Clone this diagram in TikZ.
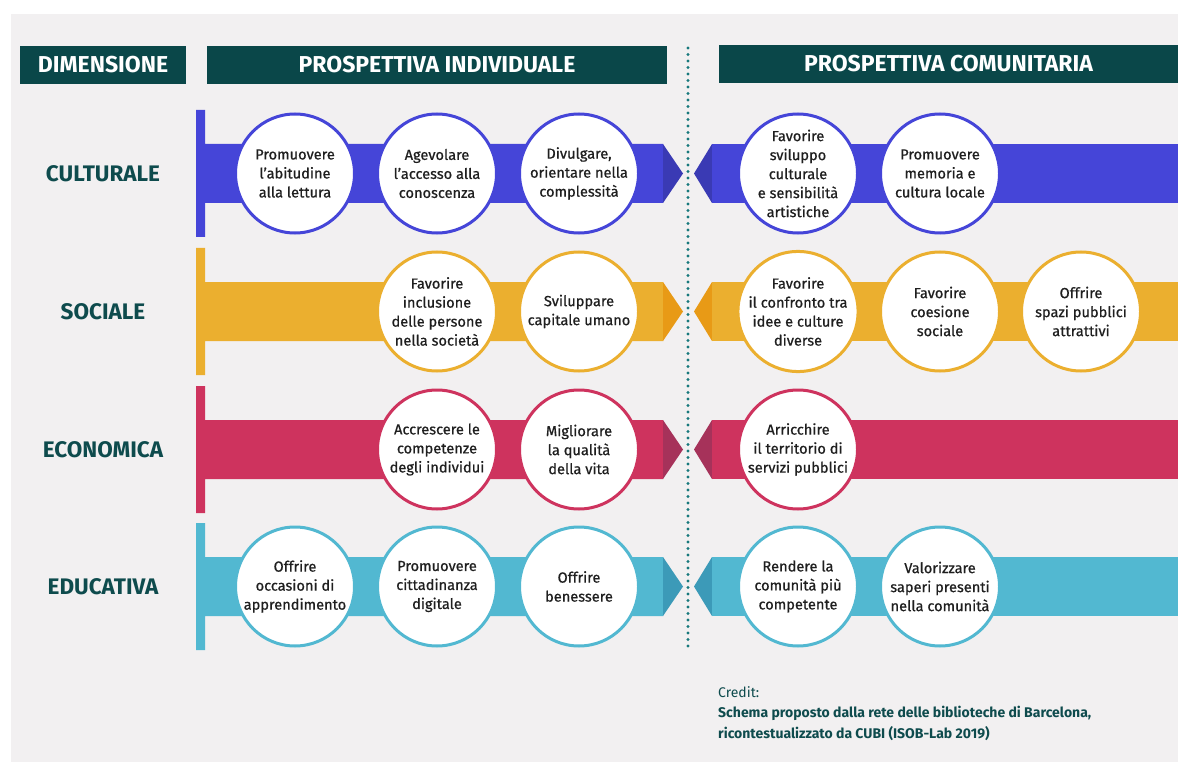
\documentclass[tikz,border=0pt]{standalone}
\usepackage{fontspec}
\setmainfont{Fira Sans}
\newfontfamily\goalfont[FakeBold=0.7]{Fira Sans}
\definecolor{bggrey}{HTML}{F2F0F1}
\definecolor{headteal}{HTML}{0A4749}
\definecolor{labteal}{HTML}{0E4B4D}
\definecolor{dotteal}{HTML}{17787C}
\definecolor{cblue}{HTML}{4545D8}
\definecolor{cbluedark}{HTML}{3A3AB4}
\definecolor{cyellow}{HTML}{EBAF2F}
\definecolor{cyellowdark}{HTML}{E89A16}
\definecolor{cpink}{HTML}{CE335E}
\definecolor{cpinkdark}{HTML}{A6325A}
\definecolor{ccyan}{HTML}{52B8D1}
\definecolor{ccyandark}{HTML}{3C9AB8}
\begin{document}
\begin{tikzpicture}[x=1pt,y=-1pt,
    head/.style={fill=headteal,text=white,inner sep=0,minimum height=38,
        font=\bfseries\fontsize{23}{26}\selectfont},
    dimlabel/.style={text=labteal,font=\bfseries\fontsize{22.5}{26}\selectfont},
    goal/.style={circle,draw=#1,line width=3pt,fill=white,minimum size=119,
        inner sep=0,align=center,text=black!88,font=\goalfont\fontsize{14.6}{19}\selectfont}]
    \def\yA{173.5} \def\yB{311.5} \def\yC{449.5} \def\yD{586.5}
    \def\xa{295} \def\xb{437} \def\xc{579} \def\xd{798} \def\xe{940} \def\xf{1081}
    \useasboundingbox (0,0) rectangle (1178,762);
    \fill[bggrey] (11,14) rectangle (1178,762);
    % headers
    \node[head,minimum width=166] (hdim) at (103,65) {DIMENSIONE};
    \node[head,minimum width=460] (hind) at (437,65) {PROSPETTIVA INDIVIDUALE};
    \node[head,minimum width=459] (hcom) at (948.5,64) {PROSPETTIVA COMUNITARIA};
    % divider
    \coordinate (divtop) at (688,48);
    \coordinate (divbot) at (688,648);
    \draw[dotteal,line width=3.2pt,line cap=round,dash pattern=on 0pt off 6.5pt] (divtop) -- (divbot);
    % culturale
    \fill[cblue] (196,\yA-63.5) rectangle (205,\yA+63.5) (205,\yA-29.5) rectangle (663,\yA+29.5);
    \fill[cbluedark] (663,\yA-29.5) -- (683,\yA) -- (663,\yA+29.5) -- cycle;
    \fill[cbluedark] (694,\yA) -- (712,\yA-29.5) -- (712,\yA+29.5) -- cycle;
    \fill[cblue] (712,\yA-29.5) rectangle (1178,\yA+29.5);
    \node[dimlabel] (dcult) at (103,\yA) {CULTURALE};
    \node[goal=cblue] (cult1) at (\xa,\yA) {Promuovere\\l’abitudine\\alla lettura};
    \node[goal=cblue] (cult2) at (\xb,\yA) {Agevolare\\l’accesso alla\\conoscenza};
    \node[goal=cblue] (cult3) at (\xc,\yA) {Divulgare,\\orientare nella\\complessità};
    \node[goal=cblue] (cult4) at (\xd,\yA) {Favorire\\sviluppo\\culturale\\e sensibilità\\artistiche};
    \node[goal=cblue] (cult5) at (\xe,\yA) {Promuovere\\memoria e\\cultura locale};
    % sociale
    \fill[cyellow] (196,\yB-63.5) rectangle (205,\yB+63.5) (205,\yB-29.5) rectangle (663,\yB+29.5);
    \fill[cyellowdark] (663,\yB-29.5) -- (683,\yB) -- (663,\yB+29.5) -- cycle;
    \fill[cyellowdark] (694,\yB) -- (712,\yB-29.5) -- (712,\yB+29.5) -- cycle;
    \fill[cyellow] (712,\yB-29.5) rectangle (1178,\yB+29.5);
    \node[dimlabel] (dsoc) at (103,\yB) {SOCIALE};
    \node[goal=cyellow] (soc1) at (\xb,\yB) {Favorire\\inclusione\\delle persone\\nella società};
    \node[goal=cyellow] (soc2) at (\xc,\yB) {Sviluppare\\capitale umano};
    \node[goal=cyellow] (soc3) at (\xd,\yB) {Favorire\\il confronto tra\\idee e culture\\diverse};
    \node[goal=cyellow] (soc4) at (\xe,\yB) {Favorire\\coesione\\sociale};
    \node[goal=cyellow] (soc5) at (\xf,\yB) {Offrire\\spazi pubblici\\attrattivi};
    % economica
    \fill[cpink] (196,\yC-63.5) rectangle (205,\yC+63.5) (205,\yC-29.5) rectangle (663,\yC+29.5);
    \fill[cpinkdark] (663,\yC-29.5) -- (683,\yC) -- (663,\yC+29.5) -- cycle;
    \fill[cpinkdark] (694,\yC) -- (712,\yC-29.5) -- (712,\yC+29.5) -- cycle;
    \fill[cpink] (712,\yC-29.5) rectangle (1178,\yC+29.5);
    \node[dimlabel] (deco) at (103,\yC) {ECONOMICA};
    \node[goal=cpink] (eco1) at (\xb,\yC) {Accrescere le\\competenze\\degli individui};
    \node[goal=cpink] (eco2) at (\xc,\yC) {Migliorare\\la qualità\\della vita};
    \node[goal=cpink] (eco3) at (\xd,\yC) {Arricchire\\il territorio di\\servizi pubblici};
    % educativa
    \fill[ccyan] (196,\yD-63.5) rectangle (205,\yD+63.5) (205,\yD-29.5) rectangle (663,\yD+29.5);
    \fill[ccyandark] (663,\yD-29.5) -- (683,\yD) -- (663,\yD+29.5) -- cycle;
    \fill[ccyandark] (694,\yD) -- (712,\yD-29.5) -- (712,\yD+29.5) -- cycle;
    \fill[ccyan] (712,\yD-29.5) rectangle (1178,\yD+29.5);
    \node[dimlabel] (dedu) at (103,\yD) {EDUCATIVA};
    \node[goal=ccyan] (edu1) at (\xa,\yD) {Offrire\\occasioni di\\apprendimento};
    \node[goal=ccyan] (edu2) at (\xb,\yD) {Promuovere\\cittadinanza\\digitale};
    \node[goal=ccyan] (edu3) at (\xc,\yD) {Offrire\\benessere};
    \node[goal=ccyan] (edu4) at (\xd,\yD) {Rendere la\\comunità più\\competente};
    \node[goal=ccyan] (edu5) at (\xe,\yD) {Valorizzare\\saperi presenti\\nella comunità};
    % credit
    \node[anchor=north west,align=left,inner sep=0,text=labteal,
        font=\fontsize{14}{20.5}\selectfont] (credit) at (718,686)
        {Credit:\\\textbf{Schema proposto dalla rete delle biblioteche di Barcelona,}\\
        \textbf{ricontestualizzato da CUBI (ISOB-Lab 2019)}};
\end{tikzpicture}
\end{document}
